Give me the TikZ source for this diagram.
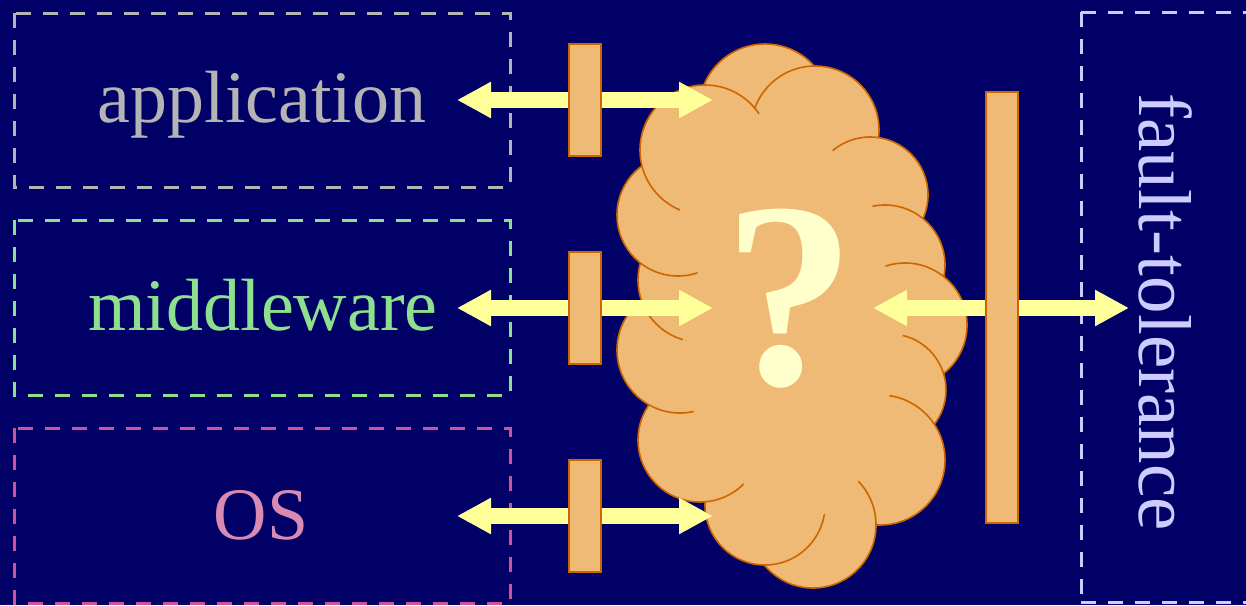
\documentclass[tikz,border=0pt]{standalone}
\usepackage{fontspec}
\setmainfont{Liberation Serif}
\usetikzlibrary{arrows.meta}
\definecolor{bg}{HTML}{000066}
\definecolor{appgray}{HTML}{B4B4B4}
\definecolor{midgreen}{HTML}{8EE08E}
\definecolor{osdash}{HTML}{CC5599}
\definecolor{ostext}{HTML}{D98AB3}
\definecolor{ftlav}{HTML}{CCCCFF}
\definecolor{cloudfill}{HTML}{EFB976}
\definecolor{cloudline}{HTML}{CC6600}
\definecolor{arrowyellow}{HTML}{FFFF99}
\definecolor{qmark}{HTML}{FFFFCC}
\tikzset{
  layerbox/.style={draw, line width=3pt, dash pattern=on 15pt off 12pt},
  bigtext/.style={anchor=base, inner sep=0pt, font=\fontsize{74}{80}\selectfont},
  gate/.style={draw=cloudline, fill=cloudfill, line width=2pt, minimum width=32pt, inner sep=0pt},
  dblarrow/.style={draw=arrowyellow, line width=16pt,
    {Triangle[length=34pt,width=34pt]}-{Triangle[length=34pt,width=34pt]}},
  puff/.style={draw=cloudline, fill=cloudfill, line width=1.6pt},
}
\begin{document}
\begin{tikzpicture}[x=1pt,y=-1pt]
\fill[bg] (0,0) rectangle (1246,605);
\useasboundingbox (0,0) rectangle (1246,605);

% layer boxes
\draw[layerbox, appgray] (14,13) rectangle (510,187);
\draw[layerbox, midgreen] (14,220) rectangle (510,395);
\draw[layerbox, osdash] (14,428) rectangle (510,603);
\draw[layerbox, ftlav] (1081,12) -- (1260,12) (1081,602) -- (1260,602) (1081,12) -- (1081,602);

\node[bigtext, text=appgray] (app) at (262,122) {application};
\node[bigtext, text=midgreen] (mid) at (263,330) {middleware};
\node[bigtext, text=ostext] (os) at (261,539) {OS};
\node[inner sep=0pt, text=ftlav, rotate=-90, font=\fontsize{75}{80}\selectfont] (ft) at (1166,312) {fault-tolerance};

% cloud
\foreach \cx/\cy/\r in {765/110/66, 815/130/64, 870/195/58, 885/265/60, 905/325/62, 890/390/56, 880/460/65, 813/525/63, 765/505/60, 700/440/62, 680/350/63, 700/280/62, 678/215/61, 705/150/65}
  \draw[puff] (\cx,\cy) circle (\r);
\fill[cloudfill] (765,110) -- (815,130) -- (870,195) -- (885,265) -- (905,325) -- (890,390) -- (880,460) -- (813,525) -- (765,505) -- (700,440) -- (680,350) -- (700,280) -- (678,215) -- (705,150) -- cycle;
\node[anchor=base, inner sep=0pt, text=qmark, font=\bfseries\fontsize{265}{265}\selectfont] (q) at (790,384) {?};

% arrow end points
\coordinate (a1l) at (457,100); \coordinate (a1r) at (713,100);
\coordinate (a2l) at (457,308); \coordinate (a2r) at (713,308);
\coordinate (a3l) at (457,516); \coordinate (a3r) at (713,516);
\coordinate (a4l) at (873,308); \coordinate (a4r) at (1129,308);

\draw[dblarrow] (a1l) -- (a1r);
\draw[dblarrow] (a2l) -- (a2r);
\draw[dblarrow] (a3l) -- (a3r);
\draw[dblarrow] (a4l) -- (a4r);

% gates
\node[gate, minimum height=112pt] (g1) at (585,100) {};
\node[gate, minimum height=112pt] (g2) at (585,308) {};
\node[gate, minimum height=112pt] (g3) at (585,516) {};
\node[gate, minimum height=431pt] (g4) at (1002,307.5) {};
\end{tikzpicture}
\end{document}
